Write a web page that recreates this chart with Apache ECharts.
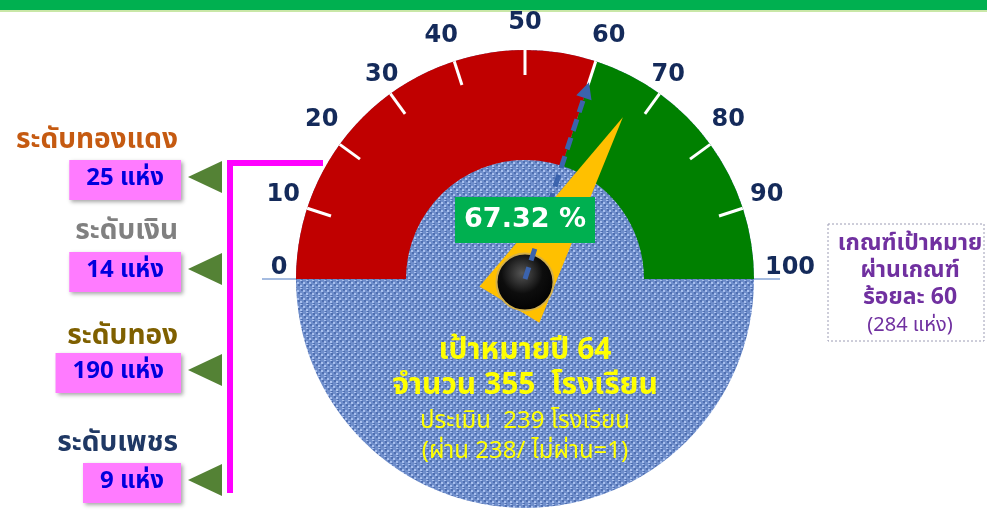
<!DOCTYPE html>
<html>
<head>
<meta charset="utf-8">
<script src="https://cdn.jsdelivr.net/npm/echarts@6/dist/echarts.min.js"></script>
<style>
  html, body { margin: 0; padding: 0; background: #fff; }
  #chart { width: 987px; height: 513px; }
</style>
</head>
<body>
<div id="chart"></div>
<script>
// gauge scale
const gaugeTicks = [0, 10, 20, 30, 40, 50, 60, 70, 80, 90, 100];
const passLine = 60;      // target percent
const passRate = 67.32;   // reached percent

// award levels (left side)
const levelNames = ['ระดับทองแดง', 'ระดับเงิน', 'ระดับทอง', 'ระดับเพชร'];
const levelCounts = [25, 14, 190, 9];
const levelColors = ['#c55a11', '#808080', '#7f6000', '#1f3864'];

// numbers in the middle / right box
const targetYear = 64;
const targetSchools = 355;
const assessedSchools = 239;
const passedSchools = 238;
const failedSchools = 1;
const criterionPct = 60;
const criterionSchools = 284;

const thaiFont = '"Noto Sans Thai", Tahoma, Loma, Garuda, "DejaVu Sans", sans-serif';
const numFont = '"DejaVu Sans", sans-serif';
const tickColor = '#142a5a';

const cx = 525, cy = 279, rOuter = 229, bandWidth = 110;

let chart = echarts.init(document.getElementById('chart'));

// dashed arrow pointer path (16 wide, 207 long)
function dashedArrowPath() {
  let p = 'path://M8,0L16,16L0,16Z';
  let y = 19;
  while (y < 207) {
    let y2 = Math.min(y + 12, 207);
    p += 'M5.5,' + y + 'L10.5,' + y + 'L10.5,' + y2 + 'L5.5,' + y2 + 'Z';
    y = y2 + 7;
  }
  return p;
}

// small woven tile for the blue disk
function clothTile() {
  let c = document.createElement('canvas');
  c.width = 12; c.height = 8;
  let g = c.getContext('2d');
  g.fillStyle = '#6f8ecb';
  g.fillRect(0, 0, 12, 8);
  for (let y = 0; y < 8; y++) {
    for (let x = 0; x < 12; x += 3) {
      let k = (x * 7 + y * 5) % 6;
      if (k < 2) { g.fillStyle = '#a9c0ee'; g.fillRect(x, y, 2, 1); }
      else if (k > 3) { g.fillStyle = '#4f6fb1'; g.fillRect(x + 1, y, 2, 1); }
    }
  }
  return c;
}

let measure = document.createElement('canvas').getContext('2d');
function textWidth(txt, font) {
  measure.font = font;
  return measure.measureText(txt).width;
}

let graphics = [];

// header strip
graphics.push({ type: 'rect', shape: { x: 0, y: 0, width: 987, height: 10 }, style: { fill: '#00b050' } });
graphics.push({ type: 'rect', shape: { x: 0, y: 10, width: 987, height: 2 }, style: { fill: '#c9e7a7' } });

// base line under the gauge
graphics.push({ type: 'line', z: 0, shape: { x1: 262, y1: cy, x2: 780, y2: cy }, style: { stroke: '#4a78c2', lineWidth: 1 } });

// left side: levels
const labelY = [142, 233, 338, 445];
const boxY = [180, 272, 373, 483];
const boxFont = 'bold 24px ' + thaiFont;
levelNames.forEach(function (name, i) {
  graphics.push({
    type: 'text', x: 178, y: labelY[i],
    style: { text: name, fill: levelColors[i], font: 'bold 28px ' + thaiFont, align: 'right', verticalAlign: 'middle' }
  });
  let txt = levelCounts[i] + ' แห่ง';
  let w = textWidth(txt, boxFont) + 34;
  graphics.push({
    type: 'rect', shape: { x: 181 - w, y: boxY[i] - 20, width: w, height: 40 },
    style: { fill: '#ff7bff', shadowBlur: 4, shadowColor: 'rgba(0,0,0,0.35)', shadowOffsetX: 2, shadowOffsetY: 2 }
  });
  graphics.push({
    type: 'text', x: 181 - w / 2, y: boxY[i],
    style: { text: txt, fill: '#0000dd', font: boxFont, align: 'center', verticalAlign: 'middle' }
  });
  let ty = boxY[i] - 3;
  graphics.push({
    type: 'polygon', shape: { points: [[188, ty], [222, ty - 16], [222, ty + 16]] },
    style: { fill: '#548235' }
  });
});
graphics.push({
  type: 'polyline', shape: { points: [[323, 163], [230, 163], [230, 493]] },
  style: { stroke: '#ff00ff', lineWidth: 6, fill: null }
});

// right box: criterion
graphics.push({
  type: 'rect', shape: { x: 828, y: 224, width: 156, height: 117 },
  style: { fill: null, stroke: '#9c9cb4', lineWidth: 1, lineDash: [2, 2] }
});
const critLines = ['เกณฑ์เป้าหมาย', 'ผ่านเกณฑ์', 'ร้อยละ ' + criterionPct, '(' + criterionSchools + ' แห่ง)'];
const critY = [245, 272, 299, 327];
critLines.forEach(function (t, i) {
  graphics.push({
    type: 'text', x: 910, y: critY[i],
    style: { text: t, fill: '#7030a0', font: (i < 3 ? 'bold 23px ' : '20px ') + thaiFont, align: 'center', verticalAlign: 'middle' }
  });
});

// centre text on the disk
const midLines = [
  'เป้าหมายปี ' + targetYear,
  'จำนวน ' + targetSchools + '  โรงเรียน',
  'ประเมิน  ' + assessedSchools + ' โรงเรียน',
  '(ผ่าน ' + passedSchools + '/ ไม่ผ่าน=' + failedSchools + ')'
];
const midY = [353, 388, 423, 453];
midLines.forEach(function (t, i) {
  graphics.push({
    type: 'text', x: cx, y: midY[i], z: 100,
    style: { text: t, fill: '#ffff00', font: (i < 2 ? 'bold 30px ' : '24px ') + thaiFont, align: 'center', verticalAlign: 'middle' }
  });
});

const hidden = {
  axisLine: { show: false, lineStyle: { width: 0 } },
  axisTick: { show: false },
  splitLine: { show: false, length: 0, distance: 0 },
  axisLabel: { show: false },
  pointer: { show: false },
  anchor: { show: false },
  title: { show: false },
  detail: { show: false }
};

const tickRich = { color: tickColor, fontSize: 24, fontWeight: 'bold', fontFamily: numFont };

let option = {
  animation: false,
  graphic: { elements: graphics },
  series: [
    {
      // textured disk behind the gauge
      type: 'pie', z: 1, silent: true,
      center: [cx, cy], radius: [0, rOuter],
      label: { show: false }, labelLine: { show: false },
      itemStyle: { color: { image: clothTile(), repeat: 'repeat' } },
      data: [{ value: 1 }]
    },
    Object.assign({}, hidden, {
      // red / green band
      type: 'gauge', z: 2, center: [cx, cy], radius: rOuter,
      startAngle: 180, endAngle: 0, min: gaugeTicks[0], max: gaugeTicks[gaugeTicks.length - 1],
      axisLine: { show: true, lineStyle: { width: bandWidth, color: [[passLine / 100, '#c00000'], [1, '#008000']] } },
      data: [{ value: passRate }]
    }),
    Object.assign({}, hidden, {
      // white ticks inside the band
      type: 'gauge', z: 3, center: [cx, cy], radius: rOuter,
      startAngle: 180 - gaugeTicks[1] * 1.8, endAngle: 180 - gaugeTicks[gaugeTicks.length - 2] * 1.8,
      min: gaugeTicks[1], max: gaugeTicks[gaugeTicks.length - 2], splitNumber: gaugeTicks.length - 3,
      splitLine: { show: true, length: 25, distance: 0, lineStyle: { color: '#fff', width: 3 } },
      data: [{ value: passRate }]
    }),
    Object.assign({}, hidden, {
      // tick labels
      type: 'gauge', z: 3, center: [cx, cy], radius: 271,
      startAngle: 180, endAngle: 0, min: gaugeTicks[0], max: gaugeTicks[gaugeTicks.length - 1],
      splitNumber: gaugeTicks.length - 1,
      axisLabel: {
        show: true, distance: 0, color: tickColor, fontSize: 24, fontWeight: 'bold', fontFamily: numFont,
        formatter: function (v) {
          if (v === gaugeTicks[0]) return '{z|' + v + '}';
          if (v === gaugeTicks[gaugeTicks.length - 1]) return '{h|' + v + '}';
          return '{n|' + v + '}';
        },
        rich: {
          n: Object.assign({ width: 32, height: 30, align: 'center', verticalAlign: 'middle' }, tickRich),
          z: Object.assign({ width: 50, height: 30, padding: [0, 0, 22, 0], align: 'center' }, tickRich),
          h: Object.assign({ width: 12, height: 30, padding: [0, 0, 22, 0], align: 'center' }, tickRich)
        }
      },
      data: [{ value: passRate }]
    }),
    Object.assign({}, hidden, {
      // yellow needle + knob
      type: 'gauge', z: 4, center: [cx, cy], radius: rOuter,
      startAngle: 180, endAngle: 0, min: gaugeTicks[0], max: gaugeTicks[gaugeTicks.length - 1],
      pointer: {
        show: true, icon: 'path://M34,0L68,215L0,215Z', length: 219, width: 70, offsetCenter: [0, 30],
        itemStyle: { color: '#ffc000' }
      },
      anchor: {
        show: true, showAbove: true, size: 57, offsetCenter: [0, 3],
        itemStyle: {
          color: new echarts.graphic.RadialGradient(0.45, 0.35, 0.7, [
            { offset: 0, color: '#555' }, { offset: 0.5, color: '#0d0d0d' }, { offset: 1, color: '#000' }
          ]),
          borderColor: '#d4b04a', borderWidth: 2
        }
      },
      data: [{ value: passRate }]
    }),
    Object.assign({}, hidden, {
      // dashed arrow at the pass line
      type: 'gauge', z: 5, center: [cx, cy], radius: rOuter,
      startAngle: 180, endAngle: 0, min: gaugeTicks[0], max: gaugeTicks[gaugeTicks.length - 1],
      pointer: { show: true, icon: dashedArrowPath(), length: 207, width: 16, itemStyle: { color: '#3b63ad' } },
      data: [{ value: passLine }]
    }),
    Object.assign({}, hidden, {
      // percentage read-out
      type: 'gauge', z: 6, center: [cx, cy], radius: rOuter,
      startAngle: 180, endAngle: 0, min: gaugeTicks[0], max: gaugeTicks[gaugeTicks.length - 1],
      detail: {
        show: true, offsetCenter: [0, -59], width: 140, height: 46, lineHeight: 46, padding: 0,
        backgroundColor: '#00b050', color: '#fff', fontSize: 27, fontWeight: 'bold', fontFamily: numFont,
        formatter: function (v) { return v.toFixed(2) + ' %'; }
      },
      data: [{ value: passRate }]
    })
  ]
};

chart.setOption(option);
</script>
</body>
</html>
